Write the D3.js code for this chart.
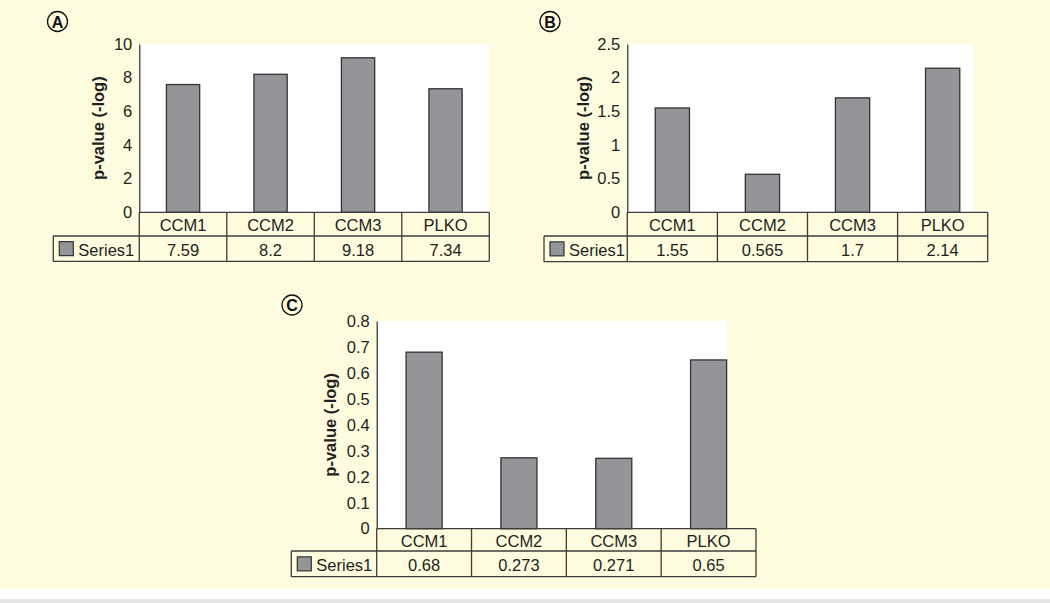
<!DOCTYPE html>
<html><head><meta charset="utf-8">
<script src="https://cdn.jsdelivr.net/npm/d3@7"></script>
<style>html,body{margin:0;padding:0;background:#fff;}svg{display:block;}</style>
</head><body>
<script>
const categories = ["CCM1", "CCM2", "CCM3", "PLKO"];
const seriesName = "Series1";
const valuesA = [7.59, 8.2, 9.18, 7.34];
const valuesB = [1.55, 0.565, 1.7, 2.14];
const valuesC = [0.68, 0.273, 0.271, 0.65];
const ticksA = [0, 2, 4, 6, 8, 10];
const ticksB = [0, 0.5, 1, 1.5, 2, 2.5];
const ticksC = [0, 0.1, 0.2, 0.3, 0.4, 0.5, 0.6, 0.7, 0.8];
const yTitle = "p-value (-log)";

const W = 1050, H = 603;
const bg = "#fefbdf";
const svg = d3.select("body").append("svg").attr("width", W).attr("height", H);
svg.append("rect").attr("x", 0).attr("y", 0).attr("width", W).attr("height", 589).attr("fill", bg);
svg.append("rect").attr("x", 0).attr("y", 599).attr("width", W).attr("height", 4).attr("fill", "#e6e6e6");

const ink = "#231f20", lineCol = "#3c3c3c", font = "'Liberation Sans', Arial, sans-serif";
const fs = 16.5;

const panels = [
  {letter: "A", vals: valuesA, ticks: ticksA, left: 139.3, whiteRight: 489.3, tableRight: 489.3, top: 44, base: 212.3, row1: 236, row2: 261.3, legLeft: 53.3, titleX: 98, circ: [57.5, 21.5]},
  {letter: "B", vals: valuesB, ticks: ticksB, left: 627.3, whiteRight: 973.3, tableRight: 987.7, top: 44, base: 212.3, row1: 236, row2: 261.7, legLeft: 544, titleX: 583, circ: [550, 21.5]},
  {letter: "C", vals: valuesC, ticks: ticksC, left: 376.7, whiteRight: 726.7, tableRight: 756, top: 321, base: 528.7, row1: 551, row2: 576.7, legLeft: 291.3, titleX: 330, circ: [292, 305]}
];

panels.forEach(p => {
  const g = svg.append("g");
  const y = d3.scaleLinear().domain([p.ticks[0], p.ticks[p.ticks.length - 1]]).range([p.base, p.top]);
  const x = d3.scaleBand().domain(categories).range([p.left, p.tableRight]);

  g.append("rect").attr("x", p.left).attr("y", p.top).attr("width", p.whiteRight - p.left).attr("height", p.base - p.top).attr("fill", "#fff");

  const bw = x.bandwidth() * 0.38;
  g.selectAll("rect.bar").data(p.vals).enter().append("rect")
    .attr("class", "bar")
    .attr("x", (d, i) => x(categories[i]) + (x.bandwidth() - bw) / 2)
    .attr("y", d => y(d))
    .attr("width", bw)
    .attr("height", d => p.base - y(d))
    .attr("fill", "#939598").attr("stroke", "#333").attr("stroke-width", 1.3);

  const axis = d3.axisLeft(y).tickValues(p.ticks).tickSize(0).tickPadding(7).tickFormat(d => String(d));
  const ag = g.append("g").attr("transform", `translate(${p.left},0)`).call(axis);
  ag.select(".domain").attr("stroke", lineCol).attr("stroke-width", 1.3);
  ag.selectAll("text").attr("font-family", font).attr("font-size", fs).attr("fill", ink);

  g.append("text").attr("transform", `translate(${p.titleX},${(p.top + p.base) / 2}) rotate(-90)`)
    .attr("text-anchor", "middle").attr("dominant-baseline", "central")
    .attr("font-family", font).attr("font-size", fs).attr("font-weight", "bold").attr("fill", ink)
    .text(yTitle);

  const L = (x1, y1, x2, y2) => g.append("line").attr("x1", x1).attr("y1", y1).attr("x2", x2).attr("y2", y2)
    .attr("stroke", lineCol).attr("stroke-width", 1.3);
  L(p.left, p.base, p.tableRight, p.base);
  L(p.legLeft, p.row1, p.tableRight, p.row1);
  L(p.legLeft, p.row2, p.tableRight, p.row2);
  L(p.legLeft, p.row1, p.legLeft, p.row2);
  L(p.left, p.base, p.left, p.row2);
  categories.forEach(c => { L(x(c) + x.bandwidth(), p.base, x(c) + x.bandwidth(), p.row2); });

  g.selectAll("text.cat").data(categories).enter().append("text")
    .attr("x", d => x(d) + x.bandwidth() / 2).attr("y", (p.base + p.row1) / 2 + 1)
    .attr("text-anchor", "middle").attr("dominant-baseline", "central")
    .attr("font-family", font).attr("font-size", fs).attr("fill", ink).text(d => d);
  g.selectAll("text.val").data(p.vals).enter().append("text")
    .attr("x", (d, i) => x(categories[i]) + x.bandwidth() / 2).attr("y", (p.row1 + p.row2) / 2 + 1)
    .attr("text-anchor", "middle").attr("dominant-baseline", "central")
    .attr("font-family", font).attr("font-size", fs).attr("fill", ink).text(d => String(d));

  const my = (p.row1 + p.row2) / 2;
  g.append("rect").attr("x", p.legLeft + 6).attr("y", my - 7).attr("width", 14).attr("height", 14)
    .attr("fill", "#939598").attr("stroke", "#333").attr("stroke-width", 1.2);
  g.append("text").attr("x", p.legLeft + 25).attr("y", my + 1).attr("dominant-baseline", "central")
    .attr("font-family", font).attr("font-size", fs).attr("fill", ink).text(seriesName);

  g.append("circle").attr("cx", p.circ[0]).attr("cy", p.circ[1]).attr("r", 10)
    .attr("fill", bg).attr("stroke", "#111").attr("stroke-width", 1.3);
  g.append("text").attr("x", p.circ[0]).attr("y", p.circ[1] + 0.5).attr("text-anchor", "middle").attr("dominant-baseline", "central")
    .attr("font-family", font).attr("font-size", 16).attr("font-weight", "bold").attr("fill", "#111").text(p.letter);
});
</script>
</body></html>
